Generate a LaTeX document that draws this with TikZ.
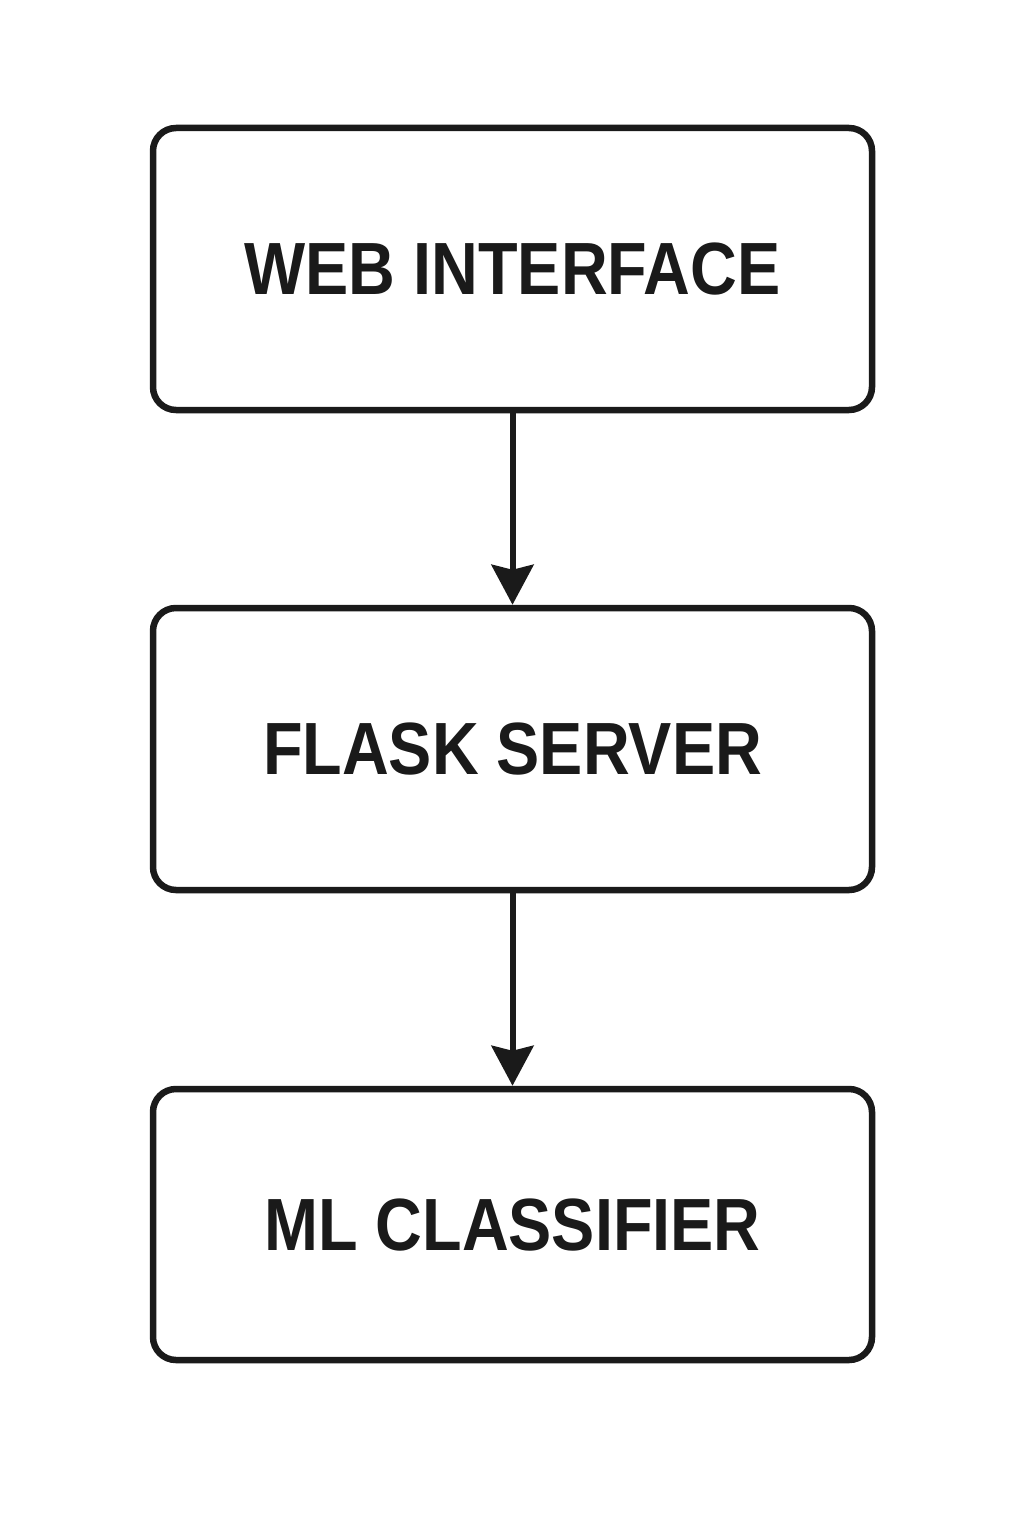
\documentclass[tikz,border=0pt]{standalone}
\usepackage{fontspec}
\setmainfont{Liberation Sans}[FakeStretch=0.875]
\usetikzlibrary{arrows.meta}
\definecolor{ink}{HTML}{1A1A1A}
\tikzset{
  box/.style={draw=ink, line width=6.5pt, rounded corners=23pt, minimum width=719pt, inner sep=0pt,
    text=ink, font=\fontsize{74pt}{74pt}\selectfont\bfseries, text depth=0pt},
  conn/.style={draw=ink, line width=6pt, -{Stealth[length=40pt,width=42pt,inset=5pt]}}
}
\begin{document}
\begin{tikzpicture}[x=1pt,y=-1pt]
\useasboundingbox (0,0) rectangle (1024,1536);
\node[box, minimum height=282pt] (a) at (512.5,269) {WEB INTERFACE};
\node[box, minimum height=282pt] (b) at (512.5,749) {FLASK SERVER};
\node[box, minimum height=271pt] (c) at (512.5,1224.5) {ML CLASSIFIER};
\draw[conn] (a.south) -- (b.north);
\draw[conn] (b.south) -- (c.north);
\end{tikzpicture}
\end{document}
